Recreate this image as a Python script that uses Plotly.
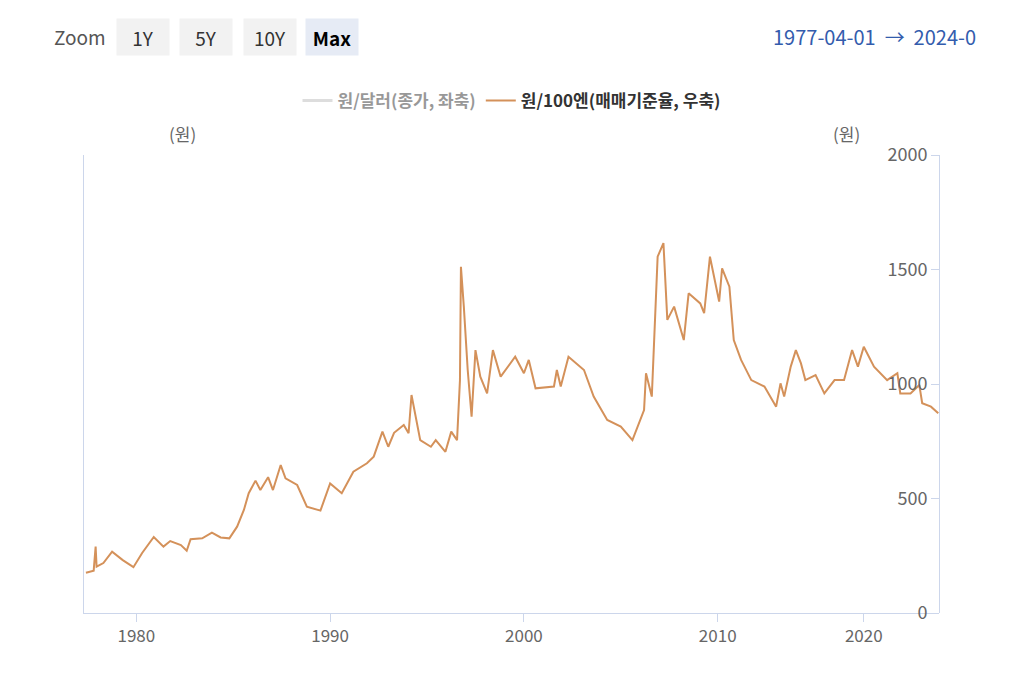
import plotly.graph_objects as go

# 원/100엔 (decimal year, value)
years = [1977.4, 1977.8, 1977.9, 1977.95, 1978.3, 1978.75, 1979.3, 1979.85, 1980.3, 1980.9,
         1981.4, 1981.75, 1982.3, 1982.6, 1982.8, 1983.4, 1983.9, 1984.35, 1984.8, 1985.2,
         1985.55, 1985.8, 1986.15, 1986.4, 1986.8, 1987.05, 1987.45, 1987.7, 1988.3, 1988.8,
         1989.5, 1990.0, 1990.6, 1991.2, 1991.9, 1992.25, 1992.7, 1993.0, 1993.3, 1993.8,
         1994.05, 1994.2, 1994.65, 1995.2, 1995.45, 1995.95, 1996.25, 1996.55, 1996.7, 1996.75,
         1996.9, 1997.1, 1997.3, 1997.5, 1997.75, 1998.1, 1998.4, 1998.8, 1999.55, 2000.0,
         2000.25, 2000.6, 2001.55, 2001.7, 2001.9, 2002.3, 2003.1, 2003.6, 2004.3, 2005.0,
         2005.6, 2006.2, 2006.3, 2006.6, 2006.9, 2007.2, 2007.4, 2007.75, 2008.25, 2008.5,
         2009.1, 2009.3, 2009.6, 2010.1, 2010.3, 2010.8, 2011.1, 2011.6, 2012.3, 2013.2,
         2014.0, 2014.3, 2014.55, 2015.0, 2015.35, 2015.7, 2016.0, 2016.7, 2017.3, 2018.0,
         2018.65, 2019.2, 2019.6, 2020.0, 2020.7, 2021.6, 2022.3, 2022.5, 2023.2, 2023.8,
         2024.0, 2024.6, 2025.1]
jpy = [176, 185, 290, 202, 218, 268, 231, 200, 262, 332,
       290, 314, 297, 272, 322, 326, 351, 330, 326, 377,
       450, 523, 578, 537, 593, 537, 646, 588, 559, 464,
       447, 566, 523, 617, 654, 683, 792, 726, 787, 821,
       785, 952, 755, 726, 755, 704, 792, 755, 1017, 1512,
       1338, 1061, 857, 1148, 1032, 959, 1148, 1032, 1119, 1047,
       1105, 981, 989, 1061, 989, 1119, 1061, 945, 843, 814,
       755, 886, 1047, 945, 1556, 1615, 1280, 1338, 1192, 1396,
       1352, 1309, 1556, 1360, 1505, 1425, 1192, 1105, 1017, 989,
       901, 1003, 945, 1076, 1148, 1090, 1017, 1039, 959, 1017,
       1017, 1148, 1076, 1163, 1076, 1017, 1047, 959, 959, 996,
       916, 901, 872]
tick_years = [1980, 1990, 2000, 2010, 2020]
y_ticks = [0, 500, 1000, 1500, 2000]

# the source axis is ordinal: after 2010 a year takes less room
def pos(y):
    return y if y <= 2010 else 2010 + (y - 2010) * 14.6 / 19.37

font = "Noto Sans CJK KR"
axis_col = "#ccd6eb"
L, T, R, B = 76, 147, 93, 78   # page has an 8px body margin

fig = go.Figure()
fig.add_trace(go.Scatter(x=[None], y=[None], name="<b>원/달러(종가, 좌축)</b>", mode="lines",
                         line=dict(color="#bbbbbb", width=3), visible="legendonly"))
fig.add_trace(go.Scatter(x=[pos(y) for y in years], y=jpy, name="<b>원/100엔(매매기준율, 우축)</b>",
                         mode="lines", line=dict(color="#d4915a", width=2), yaxis="y2"))

fig.update_layout(
    width=1024, height=683, margin=dict(l=L, r=R, t=T, b=B),
    plot_bgcolor="white", paper_bgcolor="white",
    font=dict(family=font, color="#666666"),
    legend=dict(orientation="h", x=0.5, xanchor="center", y=1.118, yanchor="middle",
                font=dict(size=17, color="#333333")),
    xaxis=dict(range=[pos(1977.3), pos(2025.15)], tickvals=[pos(y) for y in tick_years],
               ticktext=[str(y) for y in tick_years], showgrid=False, zeroline=False,
               showline=True, linecolor=axis_col, ticks="outside", tickcolor=axis_col,
               ticklen=8, tickfont=dict(size=17, color="#666666")),
    yaxis=dict(range=[0, 2000], showgrid=False, zeroline=False, showticklabels=False,
               showline=True, linecolor=axis_col),
    yaxis2=dict(range=[0, 2000], overlaying="y", side="left", anchor="free", position=1.0,
                tickvals=y_ticks, ticks="outside", tickcolor=axis_col, ticklen=8,
                showgrid=False, zeroline=False, showline=True, linecolor=axis_col,
                tickfont=dict(size=18, color="#666666")),
    showlegend=True,
)

# header: zoom buttons and date range (page pixel coords)
fig.add_annotation(text="Zoom", x=80, y=37, xanchor="center", showarrow=False,
                   font=dict(size=19, color="#555555"))
for label, cx, bg, bold in [("1Y", 143, "#f2f2f2", False), ("5Y", 206, "#f2f2f2", False),
                            ("10Y", 270, "#f2f2f2", False), ("Max", 332, "#e6ebf5", True)]:
    fig.add_annotation(text=f"<b>{label}</b>" if bold else label, x=cx, y=37, xanchor="center",
                       showarrow=False, bgcolor=bg, width=50, height=34,
                       font=dict(size=19, color="#000000" if bold else "#333333"))
fig.add_annotation(text="1977-04-01  →  2024-0", x=771, y=37, xanchor="left", showarrow=False,
                   font=dict(size=20, color="#335cad"))
for cx in (182, 846):
    fig.add_annotation(text="(원)", x=cx, y=133, xanchor="center", showarrow=False,
                       font=dict(size=17, color="#666666"))

# convert page pixel coords to paper fractions
pw, ph = 1024 - L - R, 683 - T - B
for a in fig.layout.annotations:
    a.xref, a.yref = "paper", "paper"
    a.yanchor = "middle"
    a.x = (a.x - 8 - L) / pw
    a.y = (683 - B - (a.y - 8)) / ph

fig.write_html("out.html")
